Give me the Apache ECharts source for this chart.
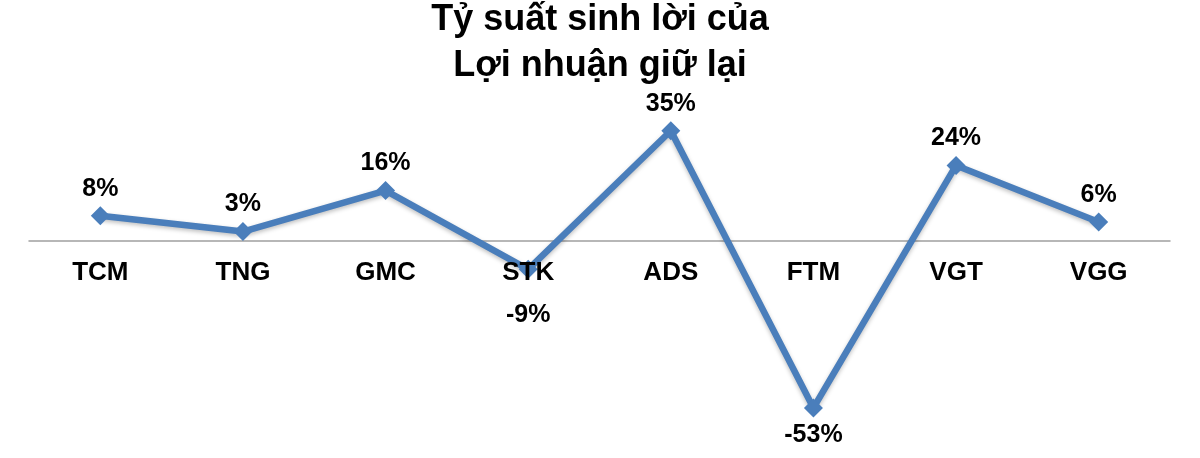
<!DOCTYPE html>
<html><head><meta charset="utf-8">
<script src="https://cdn.jsdelivr.net/npm/echarts@6/dist/echarts.min.js"></script>
<style>html,body{margin:0;padding:0;background:#fff}#c{width:1200px;height:458px}</style>
</head><body><div id="c"></div>
<script>
const categories = ['TCM','TNG','GMC','STK','ADS','FTM','VGT','VGG'];
const values = [8, 3, 16, -9, 35, -53, 24, 6];
const titleLines = ['Tỷ suất sinh lời của', 'Lợi nhuận giữ lại'];

const chart = echarts.init(document.getElementById('c'));
const font = '"Liberation Sans", Arial, sans-serif';
chart.setOption({
  animation: false,
  title: {
    text: titleLines.join('\n'),
    left: 'center', top: -8,
    textStyle: { fontFamily: font, fontWeight: 'bold', fontSize: 36, lineHeight: 46, color: '#000' }
  },
  grid: { left: 29, right: 30, top: 115, bottom: 28 },
  xAxis: {
    type: 'category', data: categories, boundaryGap: true,
    axisLine: { onZero: true, lineStyle: { color: '#a0a0a0', width: 1.5 } },
    axisTick: { show: false },
    axisLabel: { show: false }
  },
  yAxis: {
    type: 'value', min: -60, max: 40, show: false, splitLine: { show: false }
  },
  series: [{
    type: 'line',
    z: 2,
    data: values.map(v => ({
      value: v,
      label: { position: v < 0 ? 'bottom' : 'top', distance: (v < 0 && v > -20) ? 24 : 5 }
    })),
    symbol: 'diamond', symbolSize: 19,
    lineStyle: { color: '#4a7ebb', width: 6.5, shadowColor: 'rgba(0,0,0,0.25)', shadowBlur: 4, shadowOffsetY: 2 },
    itemStyle: { color: '#4a7ebb' },
    label: {
      show: true, fontFamily: font, fontWeight: 'bold', fontSize: 25, color: '#000',
      formatter: p => p.value + '%'
    }
  }, {
    type: 'scatter',
    z: 5,
    silent: true,
    symbolSize: 0,
    itemStyle: { opacity: 1 },
    data: categories.map(c => [c, 0]),
    label: {
      show: true, position: 'bottom', distance: 19,
      fontFamily: font, fontWeight: 'bold', fontSize: 26, color: '#000', opacity: 1,
      formatter: p => p.value[0]
    }
  }]
});
</script></body></html>
